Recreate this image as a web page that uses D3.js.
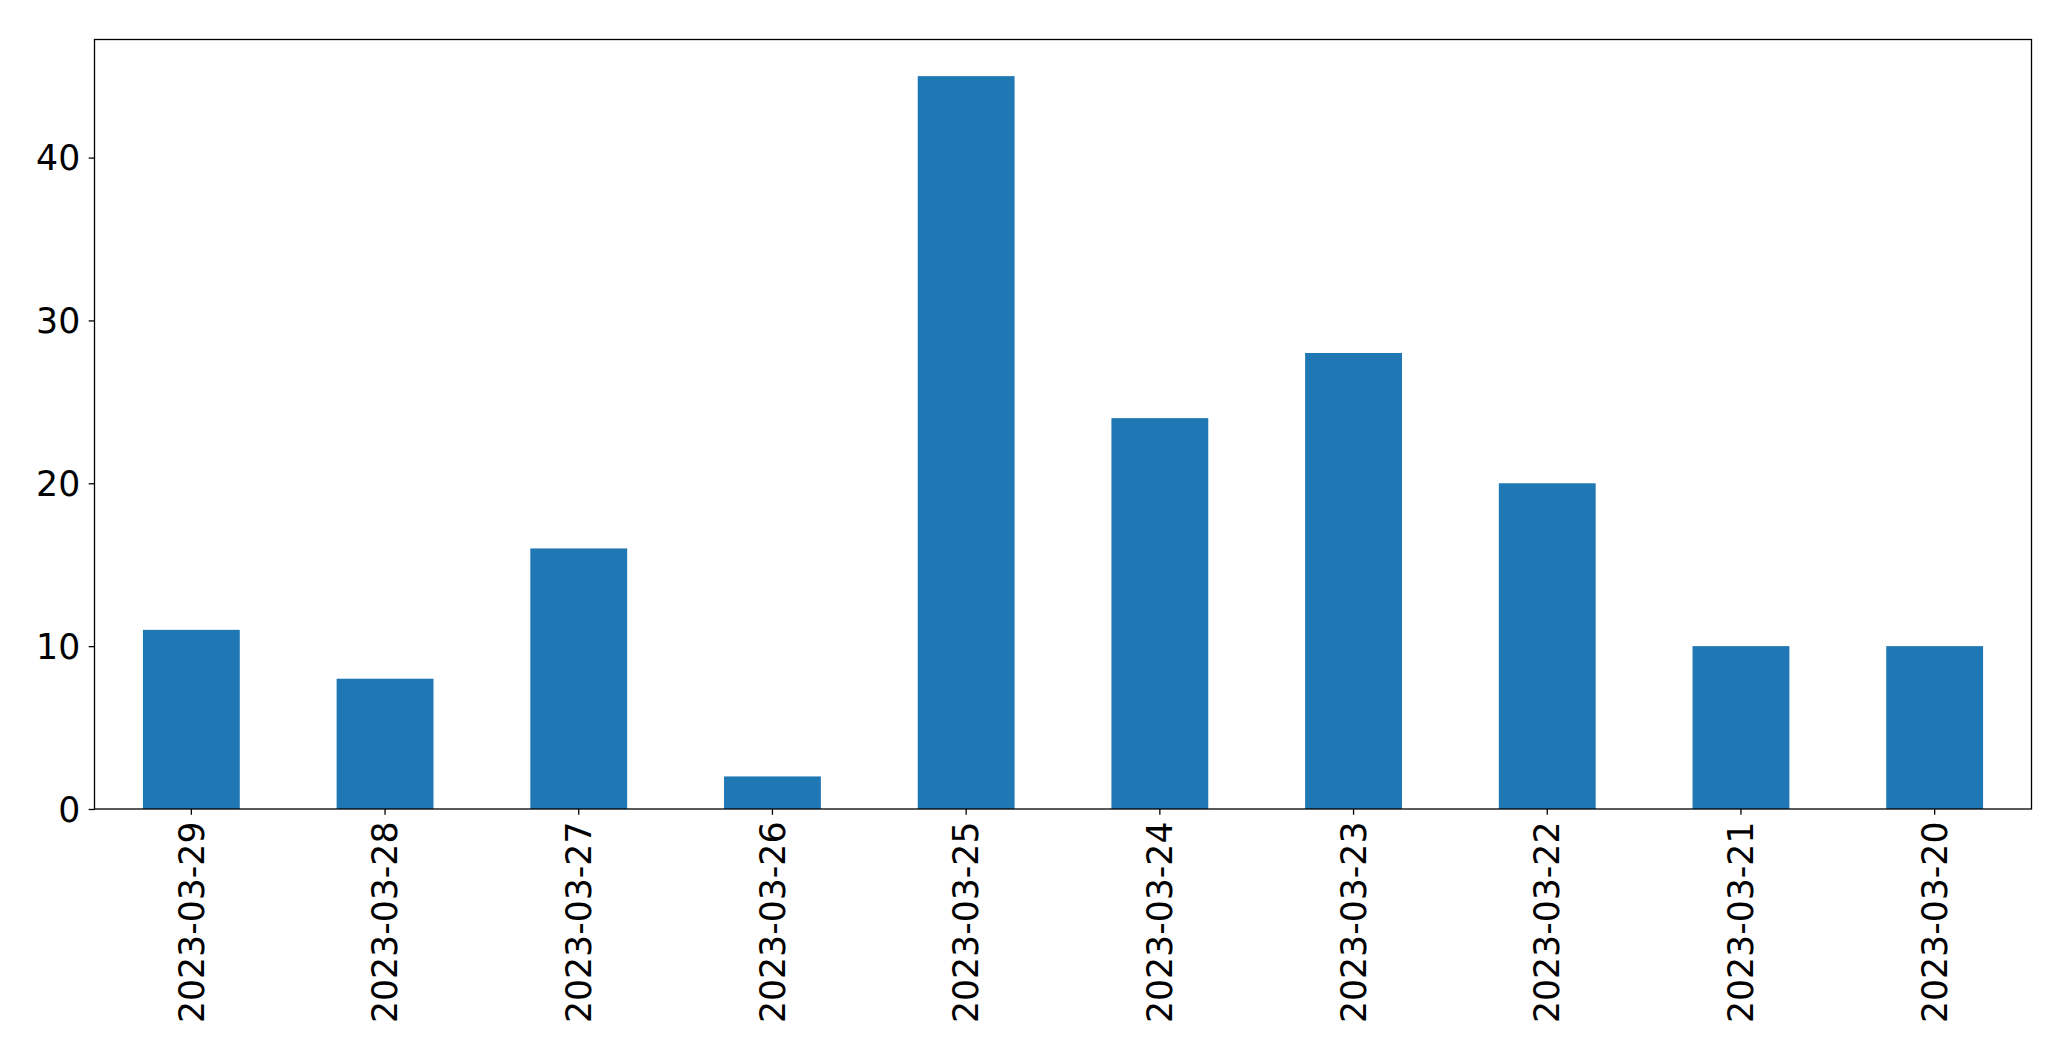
<!DOCTYPE html>
<html><head><meta charset="utf-8">
<script src="https://cdn.jsdelivr.net/npm/d3@7"></script>
<style>body{margin:0;background:#fff}svg{display:block}text{font-family:"DejaVu Sans",sans-serif;fill:#000}</style>
</head><body>
<script>
const categories = ["2023-03-29","2023-03-28","2023-03-27","2023-03-26","2023-03-25","2023-03-24","2023-03-23","2023-03-22","2023-03-21","2023-03-20"];
const values = [11, 8, 16, 2, 45, 24, 28, 20, 10, 10];
const yTicks = [0, 10, 20, 30, 40];

const W = 2071, H = 1061;
const m = {left: 94.5, right: 2031.5, top: 39.5, bottom: 809};
const fs = 34.7;
const svg = d3.select("body").append("svg").attr("width", W).attr("height", H);

const x = d3.scaleBand().domain(categories).range([m.left, m.right]).paddingInner(0.5).paddingOuter(0.25);
const y = d3.scaleLinear().domain([0, d3.max(values) * 1.05]).range([m.bottom, m.top]);

svg.append("g").selectAll("rect").data(values).join("rect")
  .attr("x", (d, i) => x(categories[i]))
  .attr("width", x.bandwidth())
  .attr("y", d => y(d))
  .attr("height", d => y(0) - y(d))
  .attr("fill", "#1f77b4");

const yAxis = svg.append("g").attr("transform", `translate(${m.left},0)`)
  .call(d3.axisLeft(y).tickValues(yTicks).tickSize(5.8).tickPadding(8.5).tickFormat(d3.format("d")));
yAxis.select(".domain").remove();
yAxis.selectAll("line").attr("stroke", "#000").attr("stroke-width", 1.3);
yAxis.selectAll("text").attr("font-size", fs).attr("font-family", "DejaVu Sans").attr("dy", "0.35em");

const xAxis = svg.append("g").attr("transform", `translate(0,${m.bottom})`)
  .call(d3.axisBottom(x).tickSize(5.8).tickPadding(6));
xAxis.select(".domain").remove();
xAxis.selectAll("line").attr("stroke", "#000").attr("stroke-width", 1.3);
xAxis.selectAll("text").attr("font-size", fs).attr("font-family", "DejaVu Sans")
  .attr("text-anchor", "end").attr("dy", "0.35em")
  .attr("transform", "translate(0,12.5) rotate(-90)").attr("x", 0).attr("y", 0);

svg.append("rect").attr("x", m.left).attr("y", m.top)
  .attr("width", m.right - m.left).attr("height", m.bottom - m.top)
  .attr("fill", "none").attr("stroke", "#000").attr("stroke-width", 1.3);
</script>
</body></html>
